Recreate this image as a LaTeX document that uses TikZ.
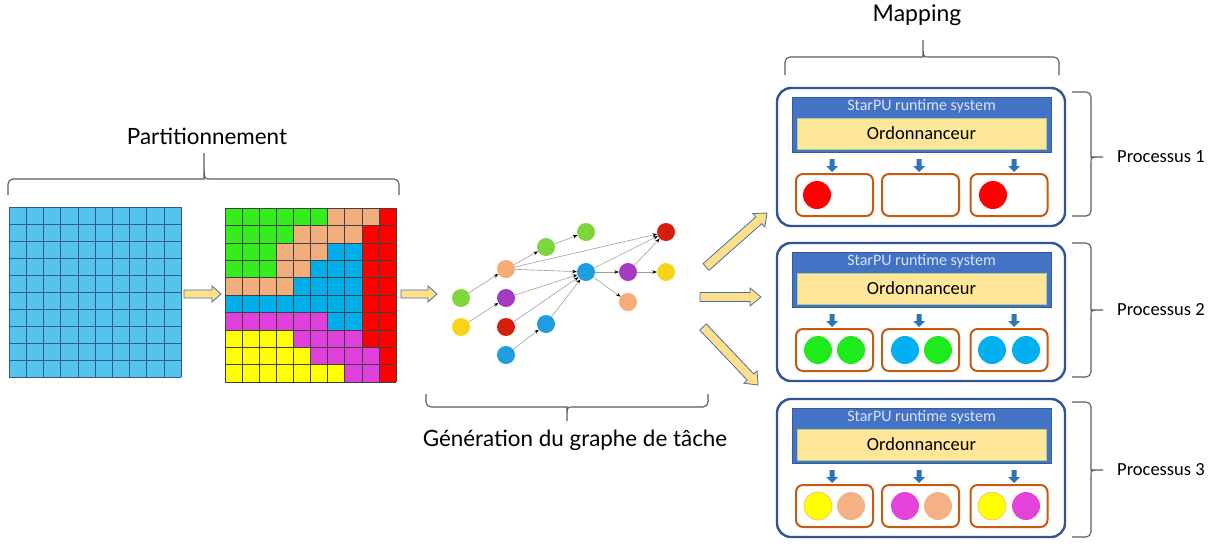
\documentclass[tikz,border=0pt]{standalone}
\usepackage{fontspec}
\setmainfont{Carlito}
\newfontfamily\latofont{Lato}
\usetikzlibrary{arrows.meta}

% grid colours
\definecolor{gridblue}{HTML}{55C3EE}
\definecolor{gridline}{HTML}{2A5F85}
\definecolor{cG}{HTML}{33EE1A}
\definecolor{cP}{HTML}{F2AE7C}
\definecolor{cB}{HTML}{00AEEA}
\definecolor{cR}{HTML}{FF0000}
\definecolor{cM}{HTML}{E040DC}
\definecolor{cY}{HTML}{FFFF00}
% general colours
\definecolor{bracegray}{HTML}{5A5A5A}
\definecolor{arrowfill}{HTML}{FFE08A}
\definecolor{arrowline}{HTML}{4A6EA8}
\definecolor{procblue}{HTML}{2F5597}
\definecolor{headblue}{HTML}{4472C4}
\definecolor{headtext}{HTML}{DCE3F0}
\definecolor{schedfill}{HTML}{FFE699}
\definecolor{schedline}{HTML}{A9D18E}
\definecolor{downblue}{HTML}{2E75B6}
\definecolor{coreline}{HTML}{C55A11}
% task graph colours
\definecolor{gGreen}{HTML}{7ED63C}
\definecolor{gYellow}{HTML}{F8D31A}
\definecolor{gPeach}{HTML}{F6AC74}
\definecolor{gMagenta}{HTML}{A33BC1}
\definecolor{gRed}{HTML}{D41E0E}
\definecolor{gBlue}{HTML}{1E9EDE}
% task colours inside the processes
\definecolor{tRed}{HTML}{FF0000}
\definecolor{tGreen}{HTML}{1EEA1E}
\definecolor{tBlue}{HTML}{00B0F0}
\definecolor{tYellow}{HTML}{FFFF00}
\definecolor{tPeach}{HTML}{F4B183}
\definecolor{tMagenta}{HTML}{E444D8}

\tikzset{
  bracestyle/.style={draw=bracegray, line width=1.1pt},
  yarrow/.style={fill=arrowfill, draw=arrowline, line width=0.8pt, line join=miter},
  procbox/.style={draw=procblue, line width=2.4pt, rounded corners=14pt, inner sep=0pt},
  headbox/.style={fill=headblue, draw=headblue!80!black, line width=0.5pt, inner sep=0pt},
  headtxt/.style={text=headtext, font=\fontsize{16}{18}\selectfont, inner sep=0pt},
  schedbox/.style={fill=schedfill, draw=schedline, line width=0.8pt, inner sep=0pt,
    font=\fontsize{18.5}{21}\selectfont},
  corebox/.style={draw=coreline, line width=2pt, rounded corners=7pt, inner sep=0pt,
    minimum width=77, minimum height=42},
  dot/.style={circle, inner sep=0pt, minimum size=28},
  gnode/.style={circle, inner sep=0pt, minimum size=18},
  gedge/.style={draw=gray!75, line width=0.6pt,
    -{Stealth[length=4.5pt, width=3.5pt, color=black]}},
  biglabel/.style={font=\latofont\fontsize{22.4}{26}\selectfont, inner sep=0pt},
  proclabel/.style={font=\fontsize{18.5}{21}\selectfont, inner sep=0pt, anchor=west},
}

% horizontal brace: x1, x2, y of the ends, y of the bar, x of the tip, y of the tip
\newcommand{\hbrace}[6]{%
  \draw[bracestyle] (#1,#3) [rounded corners=5pt] |- ({#5-5},#4) [sharp corners]
    .. controls (#5,#4) .. (#5,#6) .. controls (#5,#4) .. ({#5+5},#4)
    [rounded corners=5pt] -| (#2,#3);}
% vertical brace: y1, y2, x of the ends, x of the bar, y of the tip, x of the tip
\newcommand{\vbrace}[6]{%
  \draw[bracestyle] (#3,#1) [rounded corners=5pt] -| (#4,{#5-5}) [sharp corners]
    .. controls (#4,#5) .. (#6,#5) .. controls (#4,#5) .. (#4,{#5+5})
    [rounded corners=5pt] |- (#3,#2);}
% block arrow: tail x, tail y, angle, length, half shaft, half head, head length
\newcommand{\blockarrow}[7]{%
  \begin{scope}[shift={(#1,#2)}, rotate=#3]
    \draw[yarrow] (0,-#5) -- ({#4-#7},-#5) -- ({#4-#7},-#6) -- (#4,0)
      -- ({#4-#7},#6) -- ({#4-#7},#5) -- (0,#5) -- cycle;
  \end{scope}}
% small downward arrow from the scheduler to a worker
\newcommand{\workerarrow}[2]{%
  \fill[downblue] ({#1-2.5},{#2}) -- ({#1+2.5},{#2}) -- ({#1+2.5},{#2+7})
    -- ({#1+6},{#2+7}) -- (#1,{#2+13}) -- ({#1-6},{#2+7}) -- ({#1-2.5},{#2+7}) -- cycle;}

\begin{document}
\begin{tikzpicture}[x=1pt, y=-1pt]
\useasboundingbox (0,0) rectangle (1214,544);

% ---------- initial matrix ----------
\fill[gridblue] (9,207) rectangle (181,377);
\foreach \k in {0,...,10} {
  \draw[gridline, line width=0.6pt] ({9+\k*17.2},207) -- ({9+\k*17.2},377);
  \draw[gridline, line width=0.6pt] (9,{207+\k*17}) -- (181,{207+\k*17});
}

% ---------- partitioned matrix ----------
\foreach \row [count=\r from 0] in {
  {G,G,G,G,G,G,P,P,P,R},
  {G,G,G,G,P,P,P,P,R,R},
  {G,G,G,P,P,P,B,B,R,R},
  {G,G,G,P,P,B,B,B,R,R},
  {P,P,P,P,B,B,B,B,R,R},
  {B,B,B,B,B,B,B,B,R,R},
  {M,M,M,M,M,M,B,B,R,R},
  {Y,Y,Y,Y,M,M,M,M,R,R},
  {Y,Y,Y,Y,Y,M,M,M,M,R},
  {Y,Y,Y,Y,Y,Y,Y,M,M,R}} {
  \foreach \c [count=\k from 0] in \row {
    \fill[c\c] ({225+\k*17.1},{208+\r*17.4}) rectangle ({225+(\k+1)*17.1},{208+(\r+1)*17.4});
  }
}
\foreach \k in {0,...,10} {
  \draw[black!75, line width=0.6pt] ({225+\k*17.1},208) -- ({225+\k*17.1},382);
  \draw[black!75, line width=0.6pt] (225,{208+\k*17.4}) -- (396,{208+\k*17.4});
}

% ---------- stage arrows ----------
\blockarrow{184}{294}{0}{37}{4}{8}{9}
\blockarrow{401}{294}{0}{36}{4}{8}{9}
\blockarrow{706}{267}{41.5}{81.5}{4.5}{9}{11}
\blockarrow{700}{297}{0}{61}{4.5}{9}{11}
\blockarrow{703}{327}{-46.5}{80}{4.5}{9}{11}

% ---------- task graph ----------
\node[gnode, fill=gGreen]   (gA) at (461,298) {};
\node[gnode, fill=gYellow]  (gB) at (461,327) {};
\node[gnode, fill=gPeach]   (gC) at (506,269) {};
\node[gnode, fill=gMagenta] (gD) at (506,298) {};
\node[gnode, fill=gRed]     (gE) at (506,327) {};
\node[gnode, fill=gBlue]    (gF) at (506,355) {};
\node[gnode, fill=gGreen]   (gG) at (546,247) {};
\node[gnode, fill=gGreen]   (gH) at (586,232) {};
\node[gnode, fill=gBlue]    (gI) at (586,272) {};
\node[gnode, fill=gBlue]    (gJ) at (546,324) {};
\node[gnode, fill=gRed]     (gK) at (666,232) {};
\node[gnode, fill=gMagenta] (gL) at (628,272) {};
\node[gnode, fill=gYellow]  (gM) at (666,272) {};
\node[gnode, fill=gPeach]   (gN) at (628,302) {};
\foreach \a/\b in {gA/gC, gB/gD, gC/gG, gG/gH, gC/gK, gC/gI, gD/gI, gE/gI,
                   gJ/gI, gF/gJ, gI/gK, gI/gL, gI/gN, gL/gM, gL/gK}
  \draw[gedge] (\a) -- (\b);

% ---------- processes ----------
\foreach \i/\T in {1/88, 2/243, 3/399} {
  \node[procbox, minimum width=288, minimum height=138] (p\i) at (921,{\T+69}) {};
  \node[headbox, minimum width=259, minimum height=55] (h\i) at (921.5,{\T+36.5}) {};
  \node[headtxt] (t\i) at (921.5,{\T+18.5}) {StarPU runtime system};
  \node[schedbox, minimum width=249, minimum height=31] (s\i) at (921.5,{\T+45.5}) {Ordonnanceur};
  \workerarrow{832}{\T+71}
  \workerarrow{919}{\T+71}
  \workerarrow{1014}{\T+71}
  \node[corebox] (c\i-1) at (834.5,{\T+107}) {};
  \node[corebox] (c\i-2) at (920.5,{\T+107}) {};
  \node[corebox] (c\i-3) at (1009,{\T+107}) {};
}

% tasks mapped on process 1
\node[dot, fill=tRed] (d1a) at (817,195) {};
\node[dot, fill=tRed] (d1b) at (993,195) {};
% tasks mapped on process 2
\node[dot, fill=tGreen] (d2a) at (818,350) {};
\node[dot, fill=tGreen] (d2b) at (851,350) {};
\node[dot, fill=tBlue]  (d2c) at (905,350) {};
\node[dot, fill=tGreen] (d2d) at (938,350) {};
\node[dot, fill=tBlue]  (d2e) at (992,350) {};
\node[dot, fill=tBlue]  (d2f) at (1026,350) {};
% tasks mapped on process 3
\node[dot, fill=tYellow, draw=orange!60, line width=0.6pt] (d3a) at (818,506) {};
\node[dot, fill=tPeach]   (d3b) at (851,506) {};
\node[dot, fill=tMagenta] (d3c) at (905,506) {};
\node[dot, fill=tPeach]   (d3d) at (938,506) {};
\node[dot, fill=tYellow, draw=orange!60, line width=0.6pt] (d3e) at (992,506) {};
\node[dot, fill=tMagenta] (d3f) at (1026,506) {};

% ---------- braces and labels ----------
\hbrace{8}{399}{195}{179}{204}{153}
\node[biglabel] (lpart) at (207,136) {Partitionnement};

\hbrace{426}{708}{394}{407}{567}{421}
\node[biglabel] (lgen) at (575,440) {Génération du graphe de tâche};

\hbrace{785}{1059}{75}{57}{923}{40}
\node[biglabel, font=\latofont\fontsize{23}{27}\selectfont] (lmap) at (917,15) {Mapping};

\vbrace{92}{216}{1072}{1091}{157}{1103}
\vbrace{243}{377}{1072}{1091}{310}{1103}
\vbrace{402}{537}{1072}{1091}{470}{1103}
\node[proclabel] (l1) at (1117,157) {Processus 1};
\node[proclabel] (l2) at (1117,310) {Processus 2};
\node[proclabel] (l3) at (1117,470) {Processus 3};

\end{tikzpicture}
\end{document}
